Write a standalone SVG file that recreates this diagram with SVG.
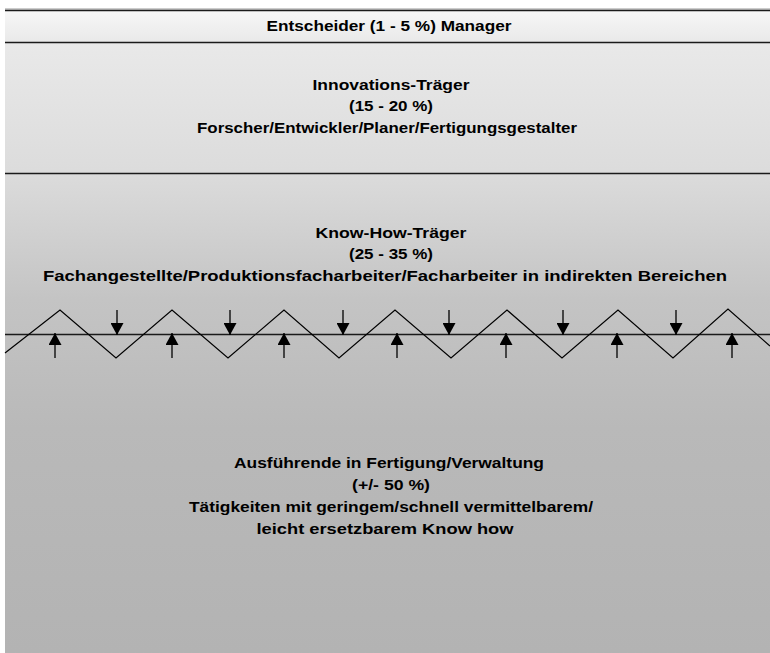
<svg xmlns="http://www.w3.org/2000/svg" width="770" height="653" viewBox="0 0 770 653">
<defs>
<linearGradient id="bg" x1="0" y1="10" x2="0" y2="653" gradientUnits="userSpaceOnUse">
<stop offset="0" stop-color="#f7f7f7"/>
<stop offset="0.05" stop-color="#e9e9e9"/>
<stop offset="0.25" stop-color="#dcdcdc"/>
<stop offset="0.45" stop-color="#c4c4c4"/>
<stop offset="0.65" stop-color="#b9b9b9"/>
<stop offset="1" stop-color="#b3b3b3"/>
</linearGradient>
<marker id="ah" viewBox="0 0 12 13" refX="12" refY="6.5" markerWidth="12" markerHeight="13" markerUnits="userSpaceOnUse" orient="auto">
<path d="M0,0 L12,6.5 L0,13 Z" fill="#000"/>
</marker>
<style>
.t{font-family:"Liberation Sans",Arial,sans-serif;font-weight:bold;font-size:15.5px;fill:#000;text-anchor:middle}
.ln{stroke:#1a1a1a;stroke-width:1.5;fill:none}
.ar{stroke:#000;stroke-width:1.3;fill:none;marker-end:url(#ah)}
</style>
</defs>
<rect x="5" y="10" width="766" height="645" fill="url(#bg)"/>
<line x1="5" y1="9" x2="770" y2="9" stroke="#999" stroke-width="1"/>
<g id="lines">
<line class="ln" x1="5" y1="10.5" x2="770" y2="10.5"/>
<line class="ln" x1="5" y1="42.5" x2="770" y2="42.5"/>
<line class="ln" x1="5" y1="173.5" x2="770" y2="173.5"/>
<line class="ln" x1="5" y1="334.5" x2="770" y2="334.5"/>
</g>
<g id="entscheider"><text class="t" x="389" y="31" textLength="245" lengthAdjust="spacingAndGlyphs">Entscheider (1 - 5 %) Manager</text></g>
<g id="innovation">
<text class="t" x="391" y="90" textLength="157" lengthAdjust="spacingAndGlyphs">Innovations-Träger</text>
<text class="t" x="391" y="111" textLength="84" lengthAdjust="spacingAndGlyphs">(15 - 20 %)</text>
<text class="t" x="387" y="133" textLength="380" lengthAdjust="spacingAndGlyphs">Forscher/Entwickler/Planer/Fertigungsgestalter</text>
</g>
<g id="knowhow">
<text class="t" x="391" y="238" textLength="151" lengthAdjust="spacingAndGlyphs">Know-How-Träger</text>
<text class="t" x="391" y="259" textLength="84" lengthAdjust="spacingAndGlyphs">(25 - 35 %)</text>
<text class="t" x="385" y="281" textLength="684" lengthAdjust="spacingAndGlyphs">Fachangestellte/Produktionsfacharbeiter/Facharbeiter in indirekten Bereichen</text>
</g>
<g id="ausfuehrende">
<text class="t" x="389" y="468" textLength="310" lengthAdjust="spacingAndGlyphs">Ausführende in Fertigung/Verwaltung</text>
<text class="t" x="391" y="490" textLength="78" lengthAdjust="spacingAndGlyphs">(+/- 50 %)</text>
<text class="t" x="391" y="512" textLength="404" lengthAdjust="spacingAndGlyphs">Tätigkeiten mit geringem/schnell vermittelbarem/</text>
<text class="t" x="385" y="534" textLength="257" lengthAdjust="spacingAndGlyphs">leicht ersetzbarem Know how</text>
</g>
<g id="connectors">
<polyline fill="none" stroke="#000" stroke-width="1.2" points="5,353 60,310 116,358 172,310 228,358 284,310 339,358 395,310 451,358 507,310 562,358 618,310 673,358 728,309 770,346"/>
<line class="ar" x1="117" y1="310" x2="117" y2="335"/>
<line class="ar" x1="230" y1="310" x2="230" y2="335"/>
<line class="ar" x1="343" y1="310" x2="343" y2="335"/>
<line class="ar" x1="449" y1="310" x2="449" y2="335"/>
<line class="ar" x1="563" y1="310" x2="563" y2="335"/>
<line class="ar" x1="676" y1="310" x2="676" y2="335"/>
<line class="ar" x1="55" y1="358" x2="55" y2="333"/>
<line class="ar" x1="172" y1="358" x2="172" y2="333"/>
<line class="ar" x1="284" y1="358" x2="284" y2="333"/>
<line class="ar" x1="397" y1="358" x2="397" y2="333"/>
<line class="ar" x1="506" y1="358" x2="506" y2="333"/>
<line class="ar" x1="617" y1="358" x2="617" y2="333"/>
<line class="ar" x1="732" y1="358" x2="732" y2="333"/>
</g>
</svg>
